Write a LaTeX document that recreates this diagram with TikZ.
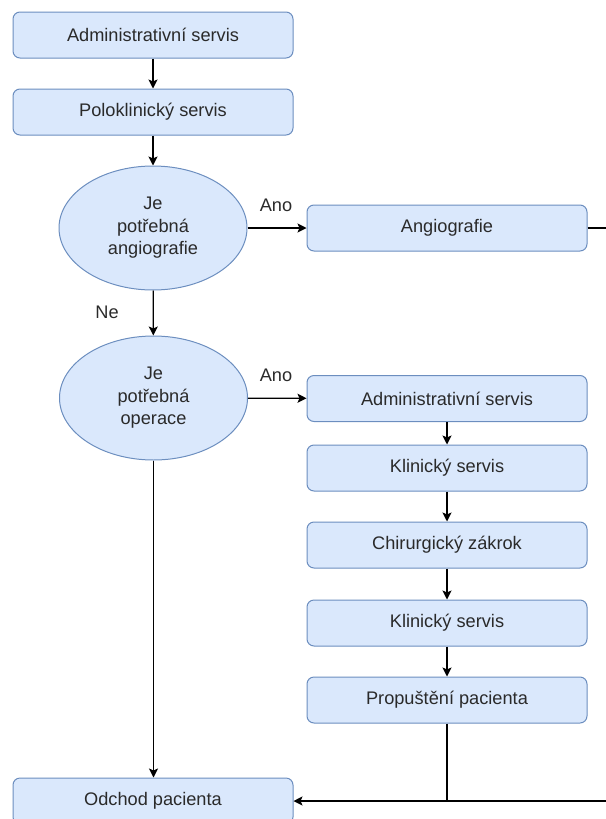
\documentclass[tikz,border=0pt]{standalone}
\usepackage{fontspec}
\setmainfont{Liberation Sans}
\usetikzlibrary{shapes.geometric,arrows.meta}
\definecolor{boxfill}{HTML}{DAE8FC}
\definecolor{boxline}{HTML}{6C8EBF}
\definecolor{txt}{HTML}{2A2A2A}
\begin{document}
\begin{tikzpicture}[x=1pt,y=-1pt,
  font=\fontsize{18.2}{22.5}\selectfont,
  stepbox/.style={draw=boxline,fill=boxfill,line width=1pt,rounded corners=7pt,
    minimum width=280pt,minimum height=46pt,inner sep=0pt,text=txt},
  decision/.style={ellipse,draw=boxline,fill=boxfill,line width=1pt,
    minimum width=188pt,minimum height=124pt,inner sep=0pt,align=center,text=txt},
  flow/.style={line width=1.3pt,-{Stealth[length=9pt,width=9pt,inset=2pt]}},
  plain/.style={line width=1.3pt},
  lbl/.style={text=txt,inner sep=0pt}]
\useasboundingbox (0,0) rectangle (605,819);

% main column
\node[stepbox] (adm) at (153,35) {Administrativní servis};
\node[stepbox] (pol) at (153,112) {Poloklinický servis};
\node[decision] (qa) at (153,228) {Je\\potřebná\\angiografie};
\node[decision] (qo) at (153.5,398) {Je\\potřebná\\operace};
\node[stepbox] (odch) at (153,801) {Odchod pacienta};

% right column
\node[stepbox] (ang) at (447,228) {Angiografie};
\node[stepbox] (radm) at (447,398.5) {Administrativní servis};
\node[stepbox] (kl1) at (447,468) {Klinický servis};
\node[stepbox] (chir) at (447,545) {Chirurgický zákrok};
\node[stepbox] (kl2) at (447,623) {Klinický servis};
\node[stepbox] (prop) at (447,700) {Propuštění pacienta};

% free ends at the right edge
\coordinate (angout) at (612,228);
\coordinate (retin) at (612,801);

% connectors
\draw[flow] (adm) -- (pol);
\draw[flow] (pol) -- (qa);
\draw[flow] (qa) -- (qo);
\draw[flow] (qa) -- (ang);
\draw[flow] (qo) -- (radm);
\draw[flow] (radm) -- (kl1);
\draw[flow] (kl1) -- (chir);
\draw[flow] (chir) -- (kl2);
\draw[flow] (kl2) -- (prop);
\draw[flow] (qo) -- (qo |- odch.north);
\draw[plain] (ang) -- (angout);
\draw[flow] (retin) -- (odch);
\draw[plain] (prop) -- (prop |- retin);

% branch labels
\node[lbl] (ano1) at (276,205) {Ano};
\node[lbl] (ano2) at (276,375) {Ano};
\node[lbl] (ne) at (107,312) {Ne};
\end{tikzpicture}
\end{document}
